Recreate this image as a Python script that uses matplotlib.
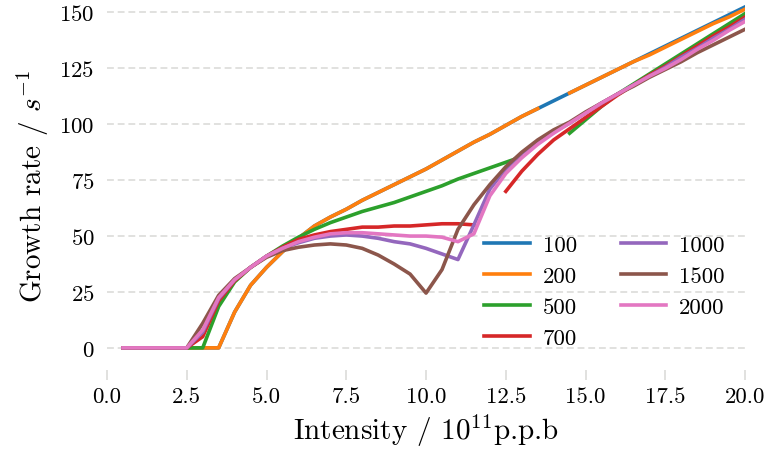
import matplotlib
matplotlib.use("Agg")
import matplotlib.pyplot as plt
import numpy as np

plt.rcParams["font.family"] = "serif"
plt.rcParams["font.serif"] = ["cmr10"]
plt.rcParams["mathtext.fontset"] = "cm"
plt.rcParams["axes.formatter.use_mathtext"] = True

nan = np.nan

intensity = [0.5, 1.0, 1.5, 2.0, 2.5, 3.0, 3.5, 4.0, 4.5, 5.0,
             5.5, 6.0, 6.5, 7.0, 7.5, 8.0, 8.5, 9.0, 9.5, 10.0,
             10.5, 11.0, 11.5, 12.0, 12.5, 13.0, 13.5, 14.0, 14.5, 15.0,
             15.5, 16.0, 16.5, 17.0, 17.5, 18.0, 18.5, 19.0, 19.5, 20.0]

labels = ["100", "200", "500", "700", "1000", "1500", "2000"]

rate_100 = [0, 0, 0, 0, 0, 0, 0, 16, 28, 36,
            43, 49, 54.5, 58.5, 62, 66, 69.5, 73, 76.5, 80,
            84, 88, 92, 95.5, 99.5, 103.5, 107, 110.5, 114, 117.5,
            121, 124.5, 128, 131.5, 135, 138.5, 142, 145.5, 149, 152.5]
rate_200 = [0, 0, 0, 0, 0, 0, 0, 16, 28, 36,
            43, 49, 54.5, 58.5, 62, 66, 69.5, 73, 76.5, 80,
            84, 88, 92, 95.5, 99.5, 103.5, 107, nan, 114, 117.5,
            121, 124.5, 128, 131, 134.5, 138, 141.5, 145, 148, 151.5]
rate_500 = [0, 0, 0, 0, 0, 0, 18.5, 29.5, 36, 41,
            45.5, 49.5, 53, 56, 58.5, 61, 63, 65, 67.5, 70,
            72.5, 75.5, 78, 80.5, 83, 85.5, nan, nan, 96, 102,
            108, 113.5, 118, 122.5, 127, 131.5, 136, 140.5, 145, 149.5]
rate_700 = [0, 0, 0, 0, 0, 5, 21, 30, 36, 41,
            45, 48.5, 50.5, 52, 53, 54, 54, 54.5, 54.5, 55,
            55.5, 55.5, 55, nan, 70, 79, 86.5, 93, 98, 103,
            108, 113, 117.5, 122, 126, 130.5, 135, 139.5, 143.5, 148]
rate_1000 = [0, 0, 0, 0, 0, 7, 22, 30.5, 36, 41,
             44.5, 47, 49, 50, 50.5, 50, 49, 47.5, 46.5, 44.5,
             42, 39.5, 55, 71, 80, 87, 92, 96.5, 100.5, 105,
             109.5, 113.5, 117.5, 121.5, 125.5, 130, 134, 138.5, 142.5, 147]
rate_1500 = [0, 0, 0, 0, 0, 11, 23.5, 31, 36, 40.5,
             43.5, 45, 46, 46.5, 46, 44.5, 41.5, 37.5, 33, 24.5,
             35, 53, 64, 73, 81, 87.5, 93, 97.5, 101, 105.5,
             109.5, 113.5, 117, 121, 124.5, 128, 132, 135.5, 139, 142.5]
rate_2000 = [0, 0, 0, 0, 0, 8, 22.5, 30.5, 36, 41,
             44.5, 47.5, 49.5, 51, 51.5, 51.5, 51, 50.5, 50, 50,
             49.5, 47.5, 51, 68, 78, 85, 91, 96, 100.5, 105,
             109.5, 113.5, 117.5, 121.5, 125, 129, 133.5, 137.5, 142, 146]

series = [rate_100, rate_200, rate_500, rate_700, rate_1000, rate_1500, rate_2000]

fig = plt.figure(figsize=(7.66, 4.6), dpi=100)
ax = fig.add_axes([0.1397, 0.193, 0.833, 0.802])

for lab, vals in zip(labels, series):
    ax.plot(intensity, vals, lw=2.6, label=lab)

ax.set_xlim(0, 20)
ax.set_ylim(-10, 155)
ax.set_xticks([0, 2.5, 5, 7.5, 10, 12.5, 15, 17.5, 20])
ax.set_xticklabels(["0.0", "2.5", "5.0", "7.5", "10.0", "12.5", "15.0", "17.5", "20.0"])
ax.set_yticks([0, 25, 50, 75, 100, 125, 150])

for s in ax.spines.values():
    s.set_visible(False)
ax.yaxis.grid(True, ls=(0, (4.5, 2.5)), color="#d9d9d6", lw=1.1)
ax.set_axisbelow(True)
ax.tick_params(axis="x", length=7, width=1.1, color="#d9d9d6", labelsize=16.5, pad=5)
ax.tick_params(axis="y", length=0, labelsize=16.5, pad=9)

ax.set_xlabel("Intensity / $10^{11}$p.p.b", fontsize=21, labelpad=4)
ax.set_ylabel("Growth rate / $s^{-1}$", fontsize=21, labelpad=6)

ax.legend(ncol=2, frameon=False, fontsize=16.5, loc="lower right",
          bbox_to_anchor=(1.0, 0.003), handlelength=2.0, columnspacing=1.9,
          labelspacing=0.48, handletextpad=0.55)

fig.savefig("out.png", dpi=100)
